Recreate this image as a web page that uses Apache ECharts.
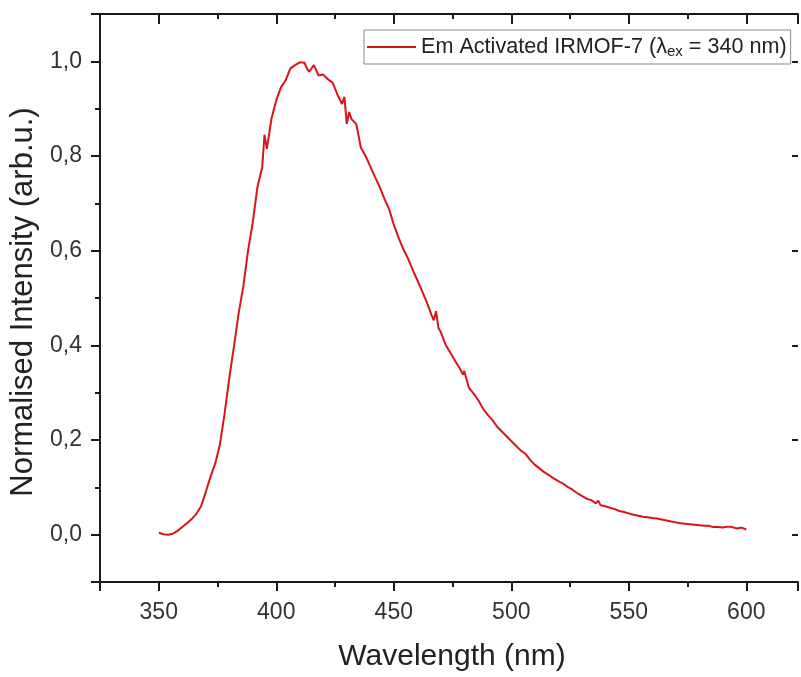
<!DOCTYPE html>
<html>
<head>
<meta charset="utf-8">
<script src="https://cdn.jsdelivr.net/npm/echarts@6/dist/echarts.min.js"></script>
<style>
html,body{margin:0;padding:0;background:#fff;}
#chart{width:801px;height:677px;}
</style>
</head>
<body>
<div id="chart"></div>
<script>
// Data
const wavelength = [350,352,354,356,358,360,362,364,366,368,370,372,374,376,378,380,382,384,386,388,390,392,394,395,396,398,400,402,404,406,408,410,412,413,414,416,418,420,422,424,426,428,429,430,431,432,434,436,438,440,442,444,446,448,450,452,454,456,458,460,462,464,466,467,468,469,470,472,474,476,478,479.5,480,482,484,486,488,490,492,494,496,498,500,502,504,506,508,510,512,514,516,518,520,522,524,526,528,530,532,534,536,537,538,540,542,544,546,548,550,552,554,556,558,560,562,564,566,568,570,572,574,576,578,580,582,584,586,588,590,592,594,596,598,600];
const intensity = [0.004,0.001,0.000,0.002,0.008,0.016,0.024,0.033,0.044,0.060,0.090,0.122,0.150,0.190,0.255,0.330,0.398,0.468,0.525,0.600,0.660,0.735,0.775,0.845,0.815,0.880,0.918,0.945,0.960,0.985,0.992,0.998,0.997,0.985,0.978,0.992,0.970,0.972,0.962,0.955,0.930,0.910,0.925,0.868,0.893,0.878,0.868,0.818,0.800,0.778,0.756,0.735,0.710,0.688,0.655,0.628,0.604,0.584,0.560,0.538,0.515,0.492,0.465,0.453,0.472,0.437,0.428,0.402,0.385,0.368,0.352,0.338,0.346,0.310,0.298,0.284,0.266,0.253,0.242,0.228,0.218,0.208,0.198,0.188,0.178,0.171,0.158,0.148,0.140,0.132,0.126,0.119,0.113,0.108,0.101,0.095,0.088,0.082,0.076,0.073,0.066,0.072,0.062,0.060,0.057,0.054,0.050,0.048,0.045,0.042,0.040,0.038,0.037,0.035,0.034,0.032,0.030,0.028,0.026,0.024,0.023,0.022,0.021,0.020,0.019,0.019,0.016,0.016,0.015,0.017,0.016,0.013,0.015,0.011];
const seriesName = 'Em Activated IRMOF-7 (λex = 340 nm)';
const xTitle = 'Wavelength (nm)';
const yTitle = 'Normalised Intensity (arb.u.)';

const points = wavelength.map((w, i) => [w, intensity[i]]);
const FONT = '"Liberation Sans", Arial, sans-serif';
const AX = '#1a1a1a';

function xLab(v) { return (Math.abs(v % 50) < 1e-6) ? String(v) : ''; }
function yLab(v) {
  const k = v * 5;
  if (Math.abs(k - Math.round(k)) > 1e-6) return '';
  return v.toFixed(1).replace('.', ',');
}

const chart = echarts.init(document.getElementById('chart'), null, {renderer: 'canvas'});
chart.setOption({
  animation: false,
  backgroundColor: '#fff',
  grid: {left: 100, top: 14, right: 0, height: 570},
  legend: {
    left: 364, top: 30,
    padding: [5, 4, 5, 3],
    borderColor: '#8a8a8a', borderWidth: 1,
    icon: 'rect',
    itemWidth: 49, itemHeight: 2, itemGap: 0,
    formatter: () => '{a|Em Activated IRMOF-7 (λ}{b|ex}{a| = 340 nm)}',
    textStyle: {
      fontFamily: FONT, color: '#222',
      rich: {
        a: {fontSize: 21.6, fontFamily: FONT, color: '#222', lineHeight: 24},
        b: {fontSize: 15, fontFamily: FONT, color: '#222', lineHeight: 24, padding: [9, 0, 0, 0]}
      }
    },
    data: [seriesName]
  },
  xAxis: [{
    type: 'value', position: 'bottom', min: 325, max: 622, splitNumber: 6,
    name: xTitle, nameLocation: 'middle', nameGap: 60,
    nameTextStyle: {fontFamily: FONT, fontSize: 30, color: '#222', padding: [0, 0, 0, 6]},
    axisLine: {show: true, onZero: false, lineStyle: {color: AX, width: 2}},
    axisTick: {show: true, inside: false, length: 9, lineStyle: {color: AX, width: 2}},
    minorTick: {show: true, splitNumber: 2, length: 5, lineStyle: {color: AX, width: 2}},
    axisLabel: {formatter: xLab, margin: 19, fontFamily: FONT, fontSize: 23, color: '#333'},
    splitLine: {show: false}
  }, {
    type: 'value', position: 'top', min: 325, max: 622, splitNumber: 6,
    axisLine: {show: true, onZero: false, lineStyle: {color: AX, width: 2}},
    axisTick: {show: true, inside: true, length: 10, lineStyle: {color: AX, width: 2}},
    minorTick: {show: true, splitNumber: 2, length: 5, lineStyle: {color: AX, width: 2}},
    axisLabel: {show: false},
    splitLine: {show: false}
  }],
  yAxis: [{
    type: 'value', position: 'left', min: -0.1, max: 1.1, splitNumber: 6,
    name: yTitle, nameLocation: 'middle', nameGap: 59,
    nameTextStyle: {fontFamily: FONT, fontSize: 31, color: '#222', padding: [0, 8, 0, 0]},
    axisLine: {show: true, onZero: false, lineStyle: {color: AX, width: 2}},
    axisTick: {show: true, inside: false, length: 9, lineStyle: {color: AX, width: 2}},
    minorTick: {show: true, splitNumber: 2, length: 5, lineStyle: {color: AX, width: 2}},
    axisLabel: {formatter: yLab, margin: 18, fontFamily: FONT, fontSize: 23, color: '#333'},
    splitLine: {show: false}
  }, {
    type: 'value', position: 'right', min: -0.1, max: 1.1, splitNumber: 6,
    axisLine: {show: false, onZero: false, lineStyle: {color: AX, width: 2}},
    axisTick: {show: true, inside: true, length: 6, lineStyle: {color: AX, width: 2}},
    minorTick: {show: false},
    axisLabel: {show: false},
    splitLine: {show: false}
  }],
  series: [{
    name: seriesName,
    type: 'line',
    xAxisIndex: 0, yAxisIndex: 0,
    data: points,
    symbol: 'none',
    lineStyle: {color: '#d9151b', width: 2},
    itemStyle: {color: '#d9151b'}
  }]
});
</script>
</body>
</html>
